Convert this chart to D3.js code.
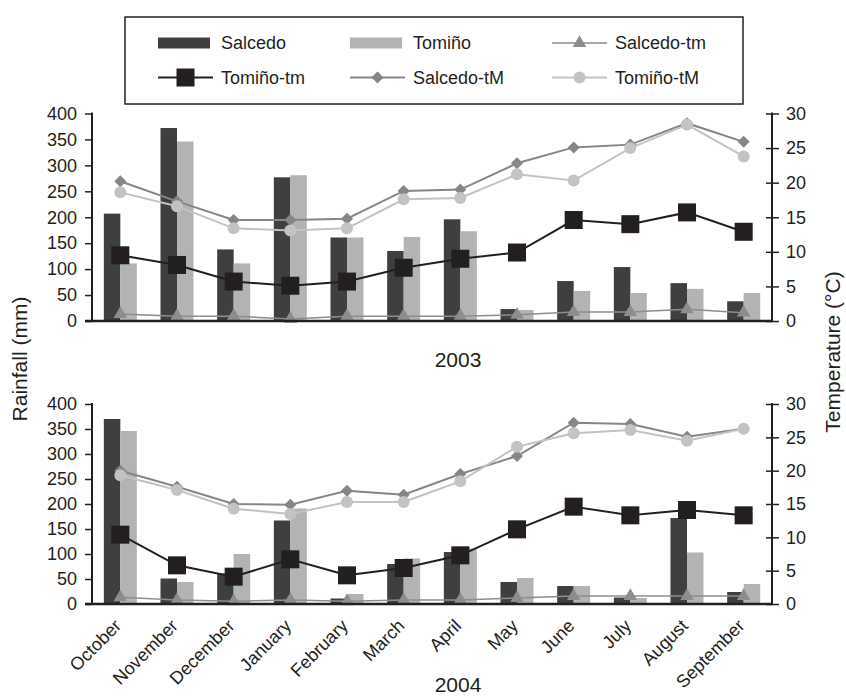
<!DOCTYPE html>
<html>
<head>
<meta charset="utf-8">
<script src="https://cdn.jsdelivr.net/npm/d3@7"></script>
<style>
  body { margin: 0; background: #fff; }
  svg { display: block; font-family: "Liberation Sans", Arial, sans-serif; }
</style>
</head>
<body>
<svg id="chart" width="846" height="698"></svg>
<script>
// months on the x axis
const months = ["October", "November", "December", "January", "February", "March",
                "April", "May", "June", "July", "August", "September"];
const rainTicks = [0, 50, 100, 150, 200, 250, 300, 350, 400];
const tempTicks = [0, 5, 10, 15, 20, 25, 30];

// 2003 (Oct 2002 - Sep 2003)
const rain2003Salcedo = [207, 372, 138, 277, 161, 135, 196, 23, 77, 104, 73, 38];
const rain2003Tomino  = [111, 346, 111, 281, 161, 162, 173, 21, 58, 54, 62, 54];
const tm2003Salcedo   = [1.0, 0.7, 0.7, 0.3, 0.7, 0.7, 0.7, 0.9, 1.3, 1.3, 1.7, 1.2];
const tm2003Tomino    = [9.5, 8.1, 5.7, 5.1, 5.7, 7.7, 9.0, 9.9, 14.6, 14.0, 15.7, 12.9];
const tM2003Salcedo   = [20.2, 17.3, 14.6, 14.6, 14.8, 18.8, 19.0, 22.8, 25.1, 25.5, 28.6, 25.9];
const tM2003Tomino    = [18.6, 16.6, 13.4, 13.1, 13.4, 17.6, 17.8, 21.2, 20.3, 25.0, 28.4, 23.8];

// 2004 (Oct 2003 - Sep 2004)
const rain2004Salcedo = [370, 51, 61, 167, 11, 80, 104, 44, 36, 13, 172, 24];
const rain2004Tomino  = [346, 44, 100, 191, 20, 91, 111, 52, 36, 12, 103, 40];
const tm2004Salcedo   = [1.0, 0.6, 0.4, 0.6, 0.4, 0.6, 0.6, 0.9, 1.2, 1.2, 1.2, 1.2];
const tm2004Tomino    = [10.4, 5.8, 4.1, 6.7, 4.3, 5.4, 7.3, 11.2, 14.6, 13.3, 14.1, 13.3];
const tM2004Salcedo   = [20.0, 17.6, 15.0, 14.9, 17.0, 16.4, 19.5, 22.2, 27.2, 27.0, 25.1, 26.3];
const tM2004Tomino    = [19.3, 17.1, 14.3, 13.5, 15.3, 15.3, 18.4, 23.6, 25.6, 26.1, 24.5, 26.3];

const ink = "#231f20";
const colSalcedoBar = "#3e3f41";
const colTominoBar = "#b2b3b5";
const colTri = "#8c8d8f";
const colDiamond = "#858688";
const colCircle = "#c2c3c5";

const svg = d3.select("#chart");
const left = 92, right = 772;

const x = d3.scaleBand().domain(months).range([left, right]).paddingInner(0).paddingOuter(0);
const xSub = d3.scaleBand().domain(["Salcedo", "Tomino"]).range([-16.5, 16.5]);
const cx = m => x(m) + x.bandwidth() / 2;

const sym = (type, size) => d3.symbol().type(type).size(size)();

function drawPanel(top, bottom, rainS, rainT, tmS, tmT, tMS, tMT, year, yearBaseline, showMonths) {
  const y = d3.scaleLinear().domain([0, 400]).range([bottom, top]);
  const yT = d3.scaleLinear().domain([0, 30]).range([bottom, top]);
  const g = svg.append("g");

  // bars
  const bars = g.append("g");
  bars.selectAll("rect.s").data(months).join("rect")
    .attr("x", m => cx(m) + xSub("Salcedo"))
    .attr("width", xSub.bandwidth())
    .attr("y", (m, i) => y(rainS[i]))
    .attr("height", (m, i) => bottom - y(rainS[i]))
    .attr("fill", colSalcedoBar);
  bars.selectAll("rect.t").data(months).join("rect")
    .attr("x", m => cx(m) + xSub("Tomino"))
    .attr("width", xSub.bandwidth())
    .attr("y", (m, i) => y(rainT[i]))
    .attr("height", (m, i) => bottom - y(rainT[i]))
    .attr("fill", colTominoBar);

  const line = vals => d3.line().x((d, i) => cx(months[i])).y(d => yT(d))(vals);

  // Salcedo-tm (triangles)
  g.append("path").attr("d", line(tmS)).attr("fill", "none").attr("stroke", colTri).attr("stroke-width", 1.5);
  g.selectAll("path.tri").data(tmS).join("path")
    .attr("transform", (d, i) => `translate(${cx(months[i])},${yT(d)})`)
    .attr("d", sym(d3.symbolTriangle, 80)).attr("fill", colTri);

  // Tomiño-tm (squares)
  g.append("path").attr("d", line(tmT)).attr("fill", "none").attr("stroke", ink).attr("stroke-width", 2);
  g.selectAll("rect.sq").data(tmT).join("rect")
    .attr("x", (d, i) => cx(months[i]) - 9).attr("y", d => yT(d) - 9)
    .attr("width", 18).attr("height", 18).attr("fill", ink);

  // Salcedo-tM (diamonds)
  g.append("path").attr("d", line(tMS)).attr("fill", "none").attr("stroke", colDiamond).attr("stroke-width", 2);
  g.selectAll("path.dia").data(tMS).join("path")
    .attr("transform", (d, i) => `translate(${cx(months[i])},${yT(d)}) rotate(45)`)
    .attr("d", sym(d3.symbolSquare, 72)).attr("fill", colDiamond);

  // Tomiño-tM (circles)
  g.append("path").attr("d", line(tMT)).attr("fill", "none").attr("stroke", colCircle).attr("stroke-width", 2);
  g.selectAll("circle").data(tMT).join("circle")
    .attr("cx", (d, i) => cx(months[i])).attr("cy", d => yT(d))
    .attr("r", 6).attr("fill", colCircle);

  // left axis
  const ax = g.append("g").attr("transform", `translate(${left},0)`)
    .call(d3.axisLeft(y).tickValues(rainTicks).tickSize(7).tickPadding(8));
  ax.select(".domain").remove();
  ax.selectAll("line").attr("stroke", ink).attr("stroke-width", 1.5);
  ax.selectAll("text").attr("font-size", 18).attr("fill", ink).attr("font-family", null);

  // right axis
  const axr = g.append("g").attr("transform", `translate(${right},0)`)
    .call(d3.axisRight(yT).tickValues(tempTicks).tickSize(7).tickPadding(7));
  axr.select(".domain").remove();
  axr.selectAll("line").attr("x1", -6).attr("stroke", ink).attr("stroke-width", 1.5);
  axr.selectAll("text").attr("font-size", 18).attr("fill", ink).attr("font-family", null);

  g.append("line").attr("x1", left).attr("x2", left).attr("y1", top - 1).attr("y2", bottom)
    .attr("stroke", ink).attr("stroke-width", 2);
  g.append("line").attr("x1", right).attr("x2", right).attr("y1", top - 1).attr("y2", bottom)
    .attr("stroke", ink).attr("stroke-width", 2);
  g.append("line").attr("x1", left - 7).attr("x2", right + 1).attr("y1", bottom).attr("y2", bottom)
    .attr("stroke", ink).attr("stroke-width", 2.5);

  if (showMonths) {
    g.selectAll("text.month").data(months).join("text")
      .attr("class", "month")
      .attr("transform", m => `translate(${cx(m) + 2},${bottom + 23}) rotate(-45)`)
      .attr("text-anchor", "end").attr("font-size", 18).attr("fill", ink)
      .text(m => m);
  }

  g.append("text").attr("x", 458).attr("y", yearBaseline).attr("text-anchor", "middle")
    .attr("font-size", 21).attr("fill", ink).text(year);
}

drawPanel(113.5, 321, rain2003Salcedo, rain2003Tomino, tm2003Salcedo, tm2003Tomino,
          tM2003Salcedo, tM2003Tomino, "2003", 367, false);
drawPanel(404, 604, rain2004Salcedo, rain2004Tomino, tm2004Salcedo, tm2004Tomino,
          tM2004Salcedo, tM2004Tomino, "2004", 692, true);

// axis titles
svg.append("text").attr("transform", "translate(27,359) rotate(-90)")
  .attr("text-anchor", "middle").attr("font-size", 21).attr("fill", ink).text("Rainfall (mm)");
svg.append("text").attr("transform", "translate(840,352) rotate(-90)")
  .attr("text-anchor", "middle").attr("font-size", 21).attr("fill", ink).text("Temperature (°C)");

// legend
const legend = svg.append("g");
legend.append("rect").attr("x", 125).attr("y", 17).attr("width", 618).attr("height", 87)
  .attr("fill", "#fff").attr("stroke", ink).attr("stroke-width", 1.5);

const legendItems = [
  { name: "Salcedo",     kind: "bar",  color: colSalcedoBar, col: 0, row: 0 },
  { name: "Tomiño",      kind: "bar",  color: colTominoBar,  col: 1, row: 0 },
  { name: "Salcedo-tm",  kind: "tri",  color: colTri,        col: 2, row: 0 },
  { name: "Tomiño-tm",   kind: "sq",   color: ink,           col: 0, row: 1 },
  { name: "Salcedo-tM",  kind: "dia",  color: colDiamond,    col: 1, row: 1 },
  { name: "Tomiño-tM",   kind: "circ", color: colCircle,     col: 2, row: 1 }
];
const colX = [158, 350, 552];
const rowY = [43, 77.5];

legendItems.forEach(it => {
  const x0 = colX[it.col], yc = rowY[it.row];
  const lg = legend.append("g");
  if (it.kind === "bar") {
    lg.append("rect").attr("x", x0).attr("y", yc - 5.5).attr("width", 52).attr("height", 11).attr("fill", it.color);
  } else {
    lg.append("line").attr("x1", x0).attr("x2", x0 + 55).attr("y1", yc).attr("y2", yc)
      .attr("stroke", it.color).attr("stroke-width", it.kind === "tri" ? 1.5 : 2);
    const mx = x0 + 27.5;
    if (it.kind === "tri") lg.append("path").attr("transform", `translate(${mx},${yc})`).attr("d", sym(d3.symbolTriangle, 80)).attr("fill", it.color);
    if (it.kind === "sq") lg.append("rect").attr("x", mx - 9).attr("y", yc - 9).attr("width", 18).attr("height", 18).attr("fill", it.color);
    if (it.kind === "dia") lg.append("path").attr("transform", `translate(${mx},${yc}) rotate(45)`).attr("d", sym(d3.symbolSquare, 72)).attr("fill", it.color);
    if (it.kind === "circ") lg.append("circle").attr("cx", mx).attr("cy", yc).attr("r", 6).attr("fill", it.color);
  }
  lg.append("text").attr("x", x0 + 63).attr("y", yc).attr("dy", "0.35em")
    .attr("font-size", 18).attr("fill", ink).text(it.name);
});
</script>
</body>
</html>
